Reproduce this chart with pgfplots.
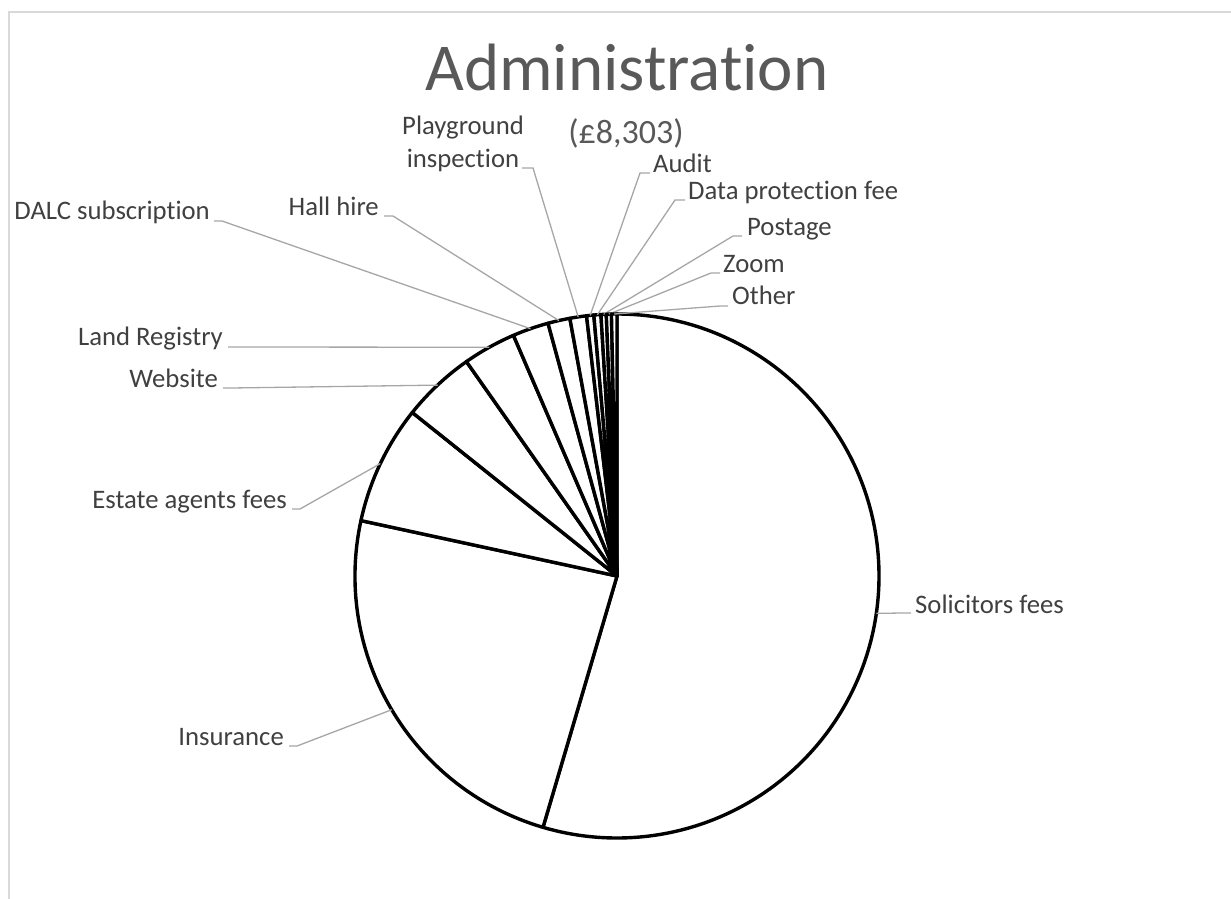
\documentclass[border=0pt]{standalone}
\usepackage{fontspec}
\setmainfont{Carlito}[RawFeature={-liga;-clig;-calt;-dlig}]
\usepackage{pgfplots}
\pgfplotsset{compat=1.18}
\usepackage{pgfplotstable}

\definecolor{labelgray}{HTML}{404040}
\definecolor{titlegray}{HTML}{595959}
\definecolor{leadergray}{HTML}{A6A6A6}
\definecolor{framegray}{HTML}{D9D9D9}

% slice values (GBP), clockwise from 12 o'clock
% bx,by = bend of the leader line, tx = end of leader next to the label (image px)
\pgfplotstableread{
value bx  by  tx
4530  902 613 911
1979  297 746 289
609   300 509 292
376   231 388 223
272   236 347 228
185   222 221 214
113   393 216 384
85    533 168 522
37    640 173 650
36    675 200 685
27    733 236 742
26    711 273 720
28    720 306 728
}\admin

\begin{document}
\begin{tikzpicture}[
  slice/.style={fill=white, draw=black, line width=3.4pt, line join=round},
  leader/.style={draw=leadergray, line width=1.3pt},
  lab/.style={font=\fontsize{26.7}{32}\selectfont, text=labelgray, inner sep=0pt},
]
\begin{axis}[
  x=1pt, y=1pt,
  xmin=0, xmax=1231, ymin=0, ymax=899,
  y dir=reverse,
  hide axis, clip=false,
]
% chart area frame (top and left edge visible)
\draw[framegray, line width=1.3pt] (axis cs:9,899) -- (axis cs:9,12) -- (axis cs:1231,12);

\pgfplotstablegetrowsof{\admin}
\pgfmathtruncatemacro\last{\pgfplotsretval-1}
\def\total{0}
\pgfplotsforeachungrouped \i in {0,...,\last}{%
  \pgfplotstablegetelem{\i}{value}\of\admin
  \pgfmathsetmacro\total{\total+\pgfplotsretval}%
}
\def\cum{0}
\pgfplotsforeachungrouped \i in {0,...,\last}{%
  \pgfplotstablegetelem{\i}{value}\of\admin \let\val\pgfplotsretval
  \pgfplotstablegetelem{\i}{bx}\of\admin \let\bx\pgfplotsretval
  \pgfplotstablegetelem{\i}{by}\of\admin \let\by\pgfplotsretval
  \pgfplotstablegetelem{\i}{tx}\of\admin \let\tx\pgfplotsretval
  \pgfmathsetmacro\a{90-360*(\cum/\total)}%
  \pgfmathsetmacro\cum{\cum+\val}%
  \pgfmathsetmacro\b{90-360*(\cum/\total)}%
  \pgfmathsetmacro\m{(\a+\b)/2}%
  \edef\temp{%
    \noexpand\draw[slice] (axis cs:617,576) -- ++(\a:262pt)
      arc[start angle=\a, end angle=\b, radius=262pt] -- cycle;
    \noexpand\draw[leader] (axis cs:617,576) ++(\m:262pt)
      -- (axis cs:\bx,\by) -- (axis cs:\tx,\by);
  }\temp
}

% title
\node[anchor=base, font=\fontsize{67}{80}\selectfont, text=titlegray, inner sep=0pt]
  at (axis cs:627,90) {Administration};
\node[anchor=base, font=\fontsize{34}{40}\selectfont, text=titlegray, inner sep=0pt]
  at (axis cs:626,143) {(£8,303)};

% category labels
\node[lab, anchor=base west] at (axis cs:915,613) {Solicitors fees};
\node[lab, anchor=base east] at (axis cs:284,745) {Insurance};
\node[lab, anchor=base east] at (axis cs:287,508) {Estate agents fees};
\node[lab, anchor=base east] at (axis cs:218,387) {Website};
\node[lab, anchor=base east] at (axis cs:223,345) {Land Registry};
\node[lab, anchor=base east] at (axis cs:210,219) {DALC subscription};
\node[lab, anchor=base east] at (axis cs:379,215) {Hall hire};
\node[lab, anchor=base] at (axis cs:463,134) {Playground};
\node[lab, anchor=base] at (axis cs:463,167) {inspection};
\node[lab, anchor=base west] at (axis cs:653,172) {Audit};
\node[lab, anchor=base west] at (axis cs:688,199) {Data protection fee};
\node[lab, anchor=base west] at (axis cs:747,235) {Postage};
\node[lab, anchor=base west] at (axis cs:723,272) {Zoom};
\node[lab, anchor=base west] at (axis cs:732,304) {Other};
\end{axis}
\pgfresetboundingbox
\path (current axis.south west) rectangle (current axis.north east);
\end{tikzpicture}
\end{document}
